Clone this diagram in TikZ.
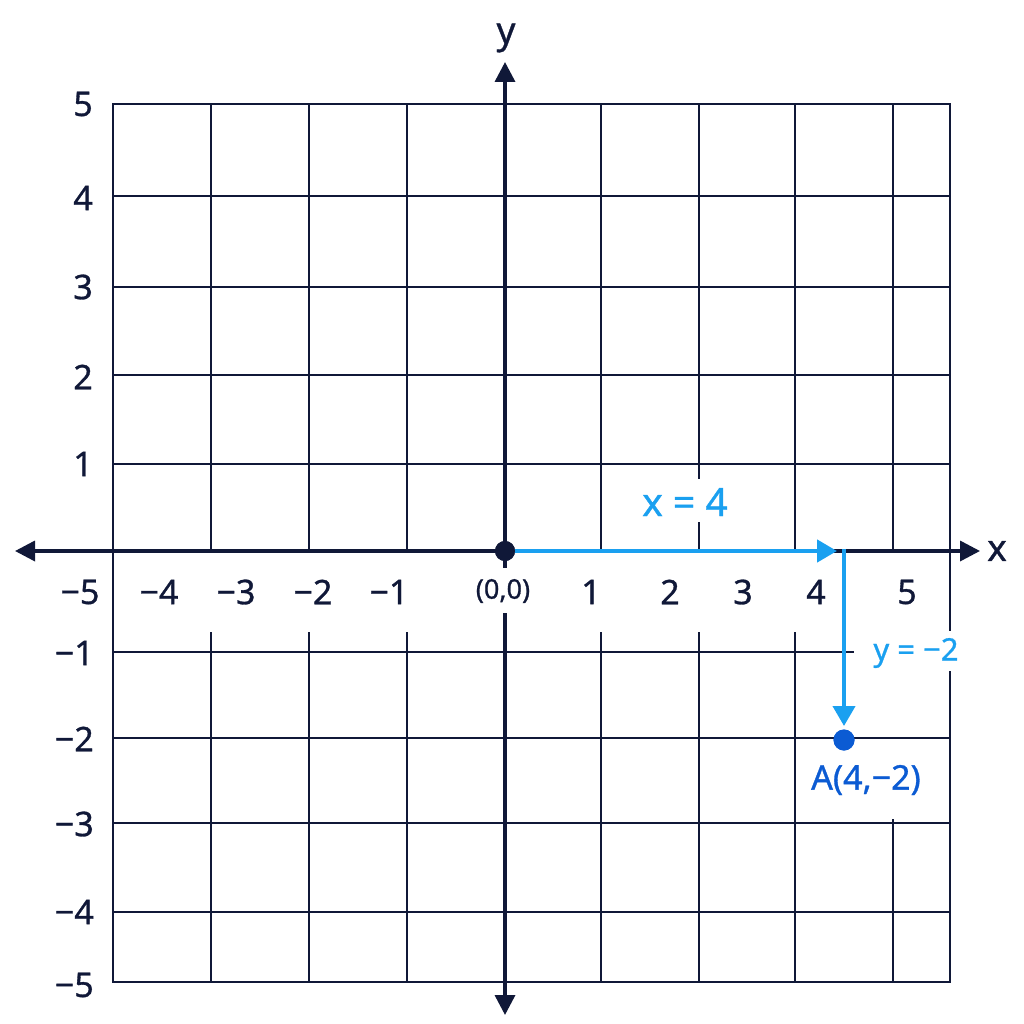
\documentclass[tikz,border=0pt]{standalone}
\usepackage{fontspec}
\setmainfont{Noto Sans}[FakeBold=0.9]
\usetikzlibrary{arrows.meta}
\definecolor{navy}{HTML}{101838}
\definecolor{lblue}{HTML}{1AA0F0}
\definecolor{dblue}{HTML}{0B5BD3}
\begin{document}
\begin{tikzpicture}[x=1pt,y=-1pt,
  gridline/.style={navy,line width=2pt,line cap=rect},
  axisline/.style={navy,line width=3.5pt},
  navytip/.style={-{Triangle[length=20pt,width=20pt]}},
  bluetip/.style={-{Triangle[length=20pt,width=22pt]}},
  bluearrow/.style={lblue,line width=4.5pt,bluetip},
  numlabel/.style={navy,inner sep=0pt,font=\fontsize{34}{40}\selectfont},
  axislabel/.style={navy,inner sep=0pt,font=\fontsize{37}{44}\selectfont},
  dotnode/.style={circle,inner sep=0pt,minimum size=20pt}]
\useasboundingbox[fill=white] (0,0) rectangle (1024,1024);
% horizontal grid lines
\foreach \yy in {104,196,287,375,464,738,823,912,982}
  \draw[gridline] (113,\yy) -- (950,\yy);
\draw[gridline] (113,652) -- (853,652);
% vertical grid lines
\draw[gridline] (113,104) -- (113,982);
\foreach \xx in {211,309,407,601,795}
  {\draw[gridline] (\xx,104) -- (\xx,551);
   \draw[gridline] (\xx,633) -- (\xx,982);}
\draw[gridline] (699,104) -- (699,478);
\draw[gridline] (699,523) -- (699,551);
\draw[gridline] (699,633) -- (699,982);
\draw[gridline] (893,104) -- (893,551);
\draw[gridline] (893,820) -- (893,982);
\draw[gridline] (950,104) -- (950,630);
\draw[gridline] (950,672) -- (950,982);
% origin and point
\node[dotnode,fill=navy] (O) at (505,551) {};
\node[dotnode,fill=dblue,minimum size=21pt] (A) at (844,740) {};
% axes
\coordinate (xl) at (15,551);
\coordinate (xr) at (980,551);
\coordinate (yt) at (505,62);
\coordinate (yb) at (505,1015);
\coordinate (ygap1) at (505,568);
\coordinate (ygap2) at (505,613);
\draw[axisline,{Triangle[length=20pt,width=20pt]}-{Triangle[length=20pt,width=20pt]}] (xl) -- (xr);
\draw[axisline,navytip] (O.center) -- (yt);
\draw[axisline] (O.center) -- (ygap1);
\draw[axisline,navytip] (ygap2) -- (yb);
% blue moves
\coordinate (xend) at (837,551);
\coordinate (corner) at (844,549);
\draw[bluearrow] (O.center) -- (xend);
\draw[lblue,line width=4pt,bluetip,shorten >=14pt] (corner) -- (A.center);
% redraw dots on top
\node[dotnode,fill=navy] at (O) {};
\node[dotnode,fill=dblue,minimum size=21pt] at (A) {};
% axis letters
\node[axislabel] (ylab) at (506,38) {y};
\node[axislabel] (xlab) at (997,551) {x};
% y labels
\foreach \v/\yy in {5/104,4/198,3/287,2/377,1/464}
  \node[numlabel,anchor=east] (ly\v) at (93,\yy) {\v};
\foreach \v/\yy in {1/653,2/739,3/824,4/912,5/985}
  \node[numlabel,anchor=east] (lym\v) at (94,\yy) {−\v};
% x labels
\foreach \v/\xx in {5/80,4/159,3/236,2/313,1/389}
  \node[numlabel] (lxm\v) at (\xx,592) {−\v};
\foreach \v/\xx in {1/591,2/670,3/743,4/816,5/907}
  \node[numlabel] (lx\v) at (\xx,592) {\v};
\node[navy,inner sep=0pt,font=\fontsize{27}{32}\selectfont] (lo) at (503,591) {(0,0)};
% move labels
\node[lblue,inner sep=0pt,font=\fontsize{39}{46}\selectfont] (lxm) at (685,502) {x = 4};
\node[lblue,inner sep=0pt,font=\fontsize{31}{37}\selectfont] (lym) at (916,653) {y = −2};
\node[dblue,inner sep=0pt,font=\fontsize{34}{40}\selectfont] (lA) at (866,780) {A(4,−2)};
\end{tikzpicture}
\end{document}
